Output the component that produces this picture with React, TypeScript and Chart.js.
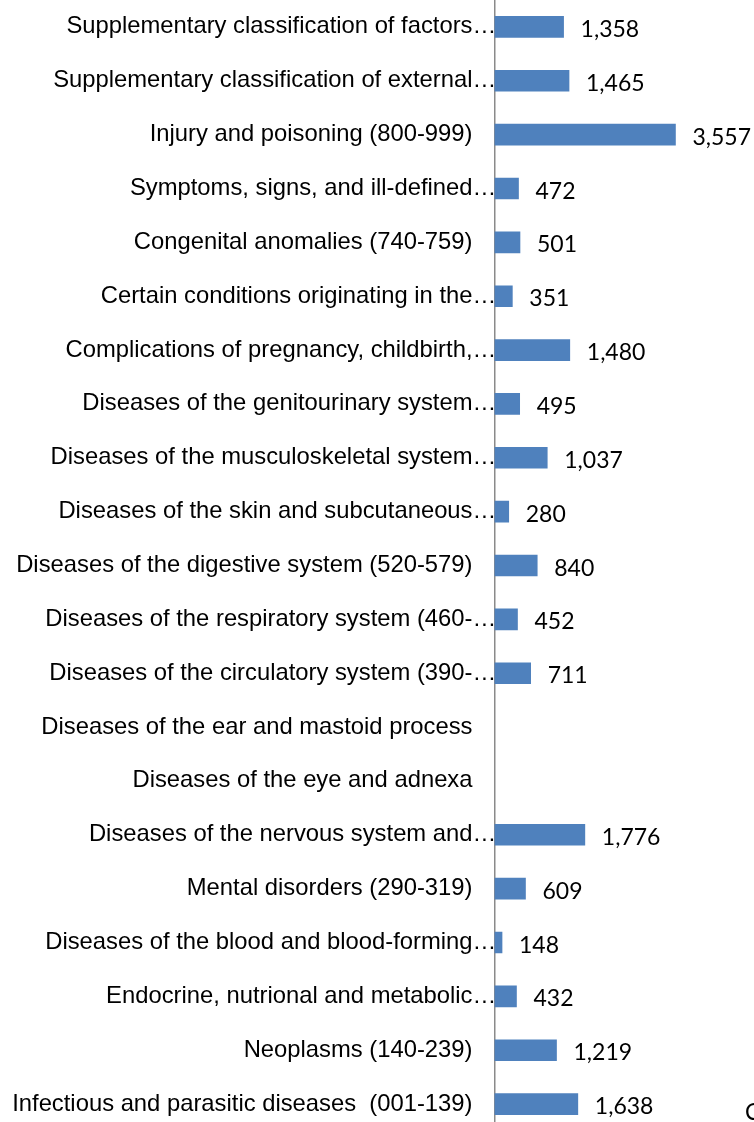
import React, { useEffect, useRef } from "react";
import { Chart, registerables } from "chart.js";

Chart.register(...registerables);

const categories: string[] = [
  "Supplementary classification of factors…",
  "Supplementary classification of external…",
  "Injury and poisoning (800-999)",
  "Symptoms, signs, and ill-defined…",
  "Congenital anomalies (740-759)",
  "Certain conditions originating in the…",
  "Complications of pregnancy, childbirth,…",
  "Diseases of the genitourinary system…",
  "Diseases of the musculoskeletal system…",
  "Diseases of the skin and subcutaneous…",
  "Diseases of the digestive system (520-579)",
  "Diseases of the respiratory system (460-…",
  "Diseases of the circulatory system (390-…",
  "Diseases of the ear and mastoid process",
  "Diseases of the eye and adnexa",
  "Diseases of the nervous system and…",
  "Mental disorders (290-319)",
  "Diseases of the blood and blood-forming…",
  "Endocrine, nutrional and metabolic…",
  "Neoplasms (140-239)",
  "Infectious and parasitic diseases  (001-139)",
];

const values: (number | null)[] = [
  1358, 1465, 3557, 472, 501, 351, 1480, 495, 1037, 280, 840, 452, 711, null,
  null, 1776, 609, 148, 432, 1219, 1638,
];

const xMax = 4000;

const ELLIPSIS = "…";
const LABEL_FONT = "23.8px 'Liberation Sans', Arial, sans-serif";
const VALUE_FONT = "23px Lato, 'Open Sans', sans-serif";

export default function App() {
  const ref = useRef<HTMLCanvasElement | null>(null);

  useEffect(() => {
    document.body.style.margin = "0";
    const canvas = ref.current;
    if (!canvas) return;

    const ellipsisPlugin = {
      id: "ellipsisPlugin",
      beforeDatasetsDraw(chart: any) {
        const ctx = chart.ctx;
        const scale = chart.scales.y;
        ctx.save();
        ctx.font = LABEL_FONT;
        ctx.fillStyle = "#000";
        ctx.textBaseline = "middle";
        ctx.textAlign = "left";
        const right = scale.right - 22;
        categories.forEach((c, i) => {
          if (c.endsWith(ELLIPSIS)) {
            const y = scale.getPixelForTick(i);
            ctx.fillText(ELLIPSIS, right, y);
          }
        });
        ctx.restore();
      },
    };

    const valueLabelPlugin = {
      id: "valueLabelPlugin",
      afterDatasetsDraw(chart: any) {
        const ctx = chart.ctx;
        const meta = chart.getDatasetMeta(0);
        ctx.save();
        ctx.font = VALUE_FONT;
        ctx.fillStyle = "#000";
        ctx.textBaseline = "alphabetic";
        ctx.textAlign = "left";
        meta.data.forEach((bar: any, i: number) => {
          const v = values[i];
          if (v == null) return;
          ctx.fillText(v.toLocaleString("en-US"), bar.x + 17, bar.y + 10);
        });
        ctx.restore();
      },
    };

    const chart = new Chart(canvas, {
      type: "bar",
      data: {
        labels: categories,
        datasets: [
          {
            data: values as any,
            backgroundColor: "#4F81BD",
            borderWidth: 0,
            barThickness: 21,
          },
        ],
      },
      options: {
        indexAxis: "y",
        responsive: false,
        animation: false,
        devicePixelRatio: 1,
        layout: { padding: { left: 0, right: 120, top: 0, bottom: 0 } },
        plugins: {
          legend: { display: false },
          tooltip: { enabled: false },
        },
        scales: {
          x: {
            display: false,
            min: 0,
            max: xMax,
          },
          y: {
            afterFit(scale: any) {
              scale.width = 494.5;
              scale.paddingTop = 0;
              scale.paddingBottom = 0;
            },
            grid: { display: false, drawTicks: false },
            border: { display: true, color: "#8a8a8a", width: 1.5 },
            ticks: {
              padding: 22,
              color: "#000",
              autoSkip: false,
              font: { family: "'Liberation Sans', Arial, sans-serif", size: 23.8 },
              callback: (_v: any, i: number) => {
                const c = categories[i];
                return c.endsWith(ELLIPSIS) ? c.slice(0, -1) : c;
              },
            },
          },
        },
      },
      plugins: [ellipsisPlugin, valueLabelPlugin],
    });

    return () => chart.destroy();
  }, []);

  return (
    <div
      style={{
        position: "fixed",
        left: 0,
        top: 0,
        width: 754,
        height: 1122,
        overflow: "hidden",
        background: "#fff",
      }}
    >
      <canvas ref={ref} width={818} height={1131} style={{ display: "block" }} />
      <span
        style={{
          position: "absolute",
          left: 745,
          top: 1097,
          font: "23px Lato, 'Open Sans', sans-serif",
          color: "#000",
        }}
      >
        C
      </span>
    </div>
  );
}
